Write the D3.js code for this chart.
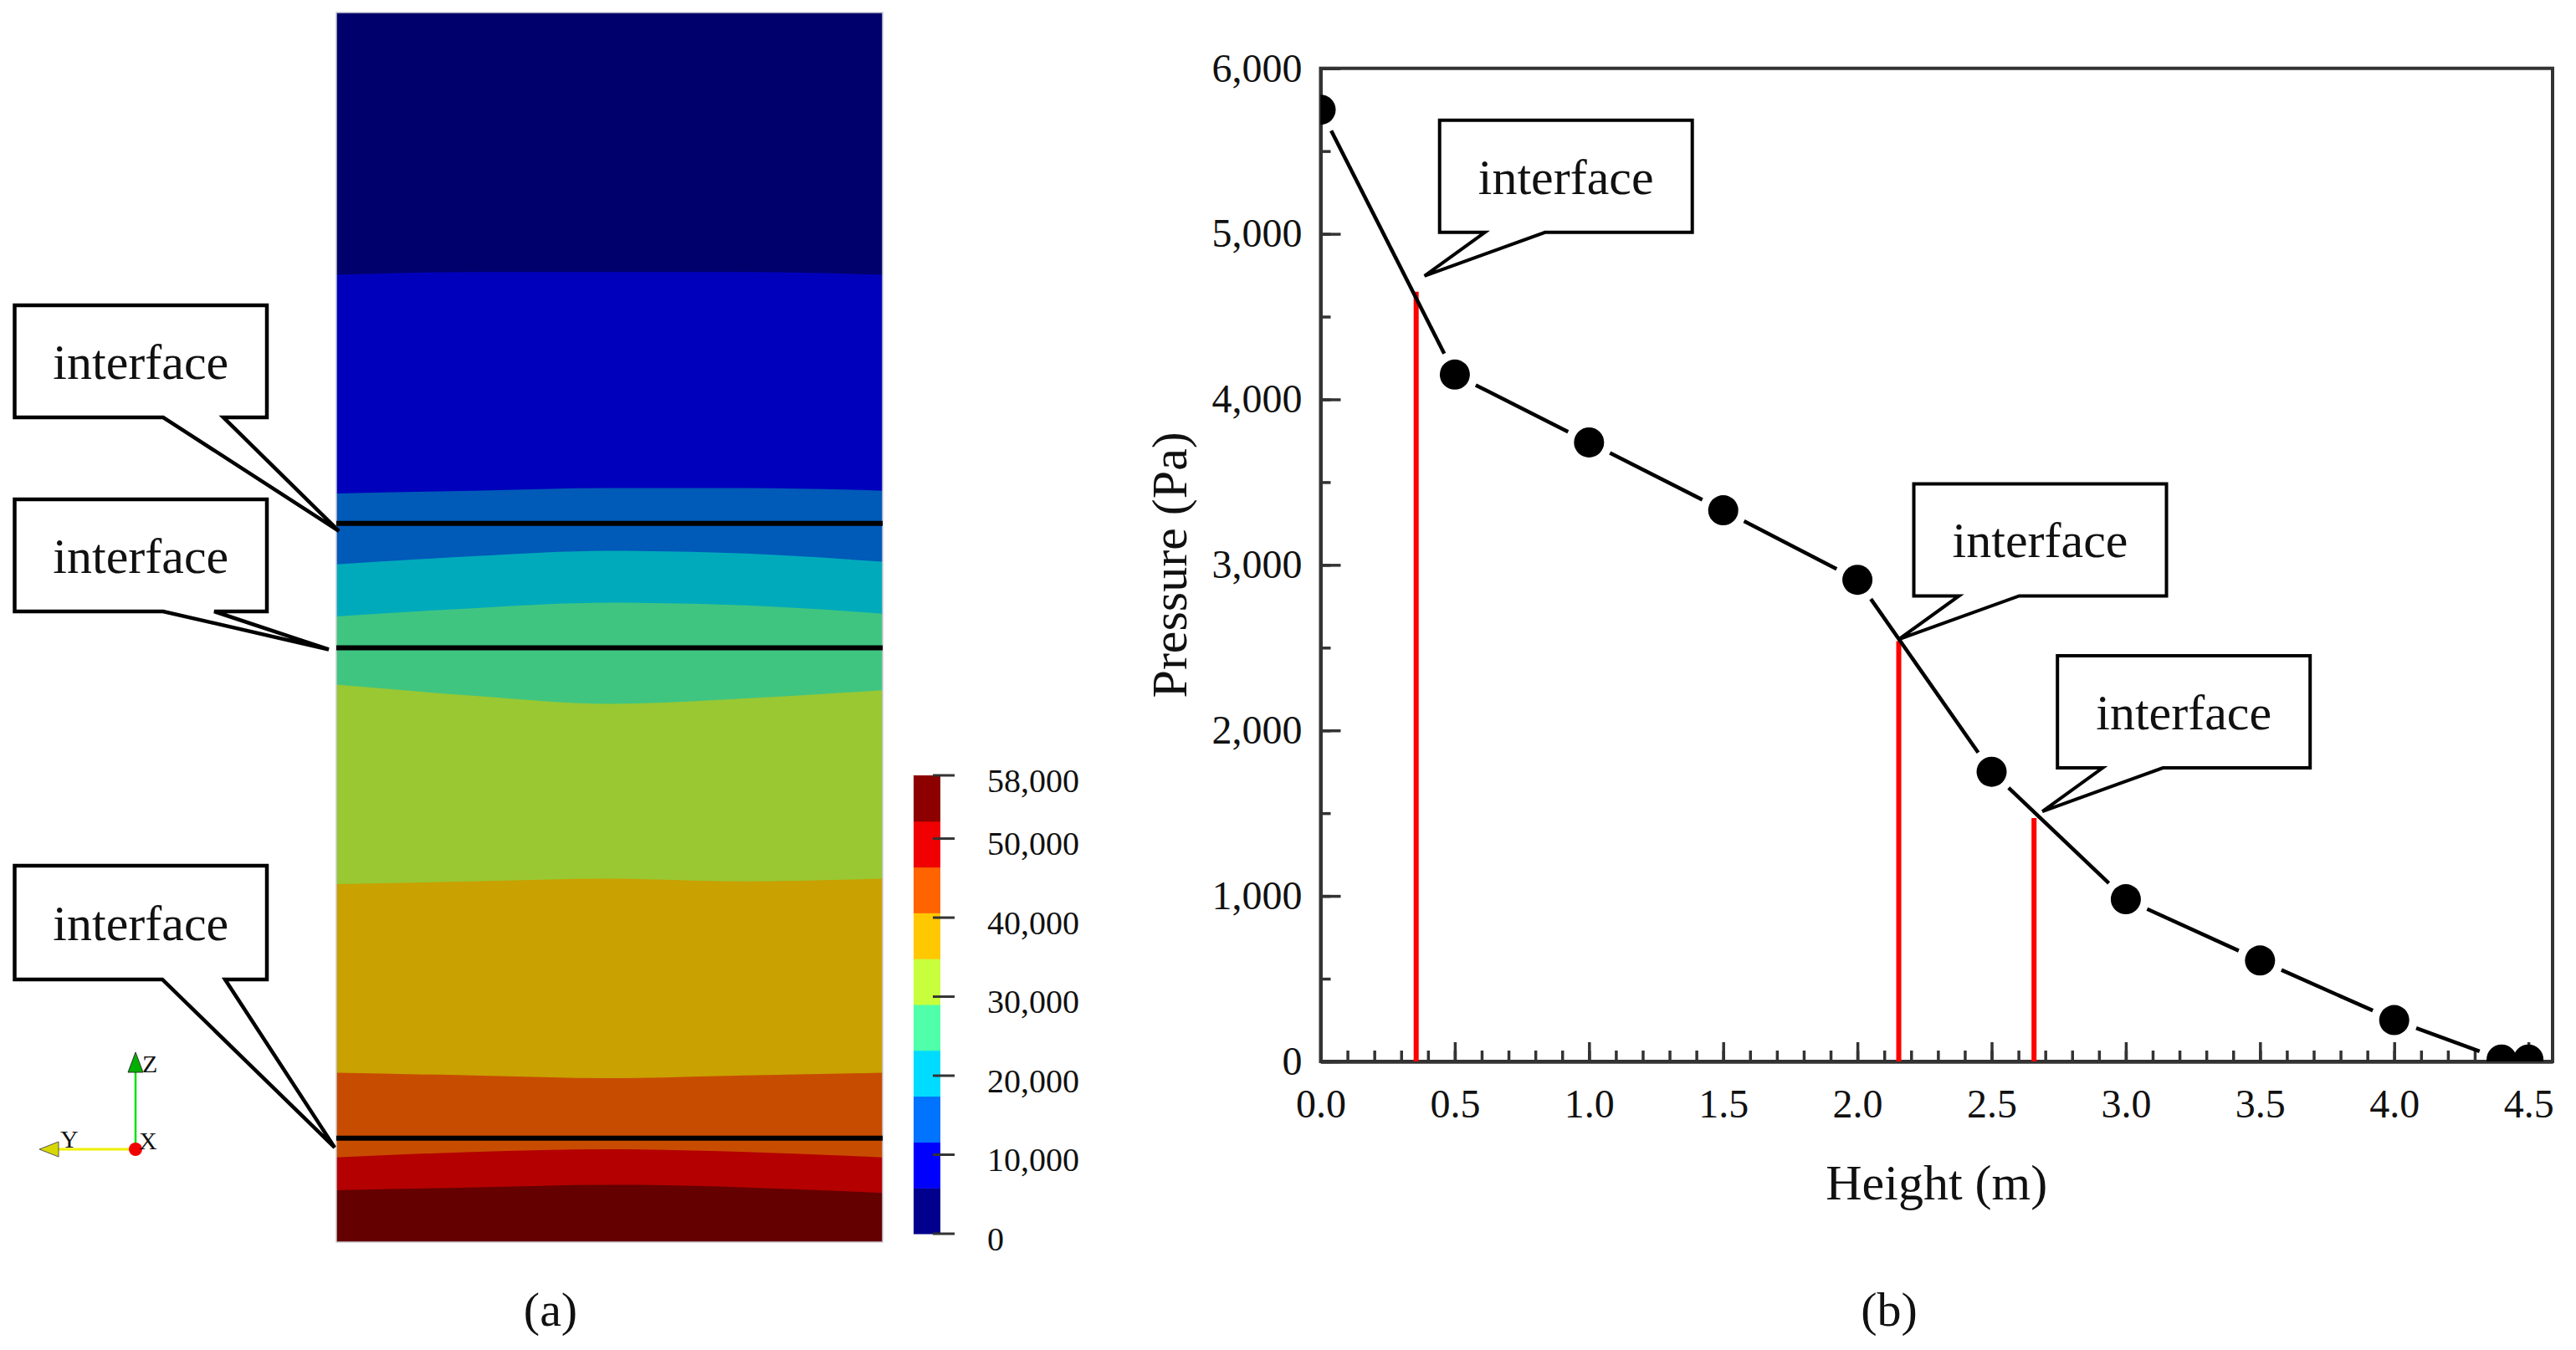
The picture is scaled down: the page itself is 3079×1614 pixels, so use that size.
<!DOCTYPE html>
<html>
<head>
<meta charset="utf-8">
<script src="https://cdn.jsdelivr.net/npm/d3@7"></script>
<style>
  html, body { margin: 0; padding: 0; background: #fff; }
  svg { display: block; }
  text { font-family: "Liberation Serif", "Times New Roman", serif; fill: #111; }
</style>
</head>
<body>
<svg id="figure"></svg>
<script>
// ---------- data ----------

// (b) pressure along the column height
var heights   = [0, 0.5, 1.0, 1.5, 2.0, 2.5, 3.0, 3.5, 4.0, 4.4, 4.5];
var pressures = [5750, 4150, 3740, 3330, 2910, 1750, 980, 610, 250, 12, 12];
var interfaceHeights   = [0.356, 2.154, 2.658];
var interfacePressures = [4650, 2540, 1470];
var xTicks = [0, 0.5, 1.0, 1.5, 2.0, 2.5, 3.0, 3.5, 4.0, 4.5];
var yTicks = [0, 1000, 2000, 3000, 4000, 5000, 6000];

// (a) contour section: band colours top -> bottom
var bandColors = ["#00006c", "#0000bc", "#005ab8", "#00aabb", "#40c580",
                  "#99c832", "#c9a100", "#c84c00", "#b40000", "#640000"];
// boundaries between bands (model height, m) sampled across the section
var bandSamples = [0, 0.25, 0.5, 0.75, 1];
var bandBoundaries = [
  [3.54, 3.55, 3.55, 3.55, 3.54],
  [2.74, 2.75, 2.76, 2.76, 2.75],
  [2.48, 2.51, 2.53, 2.52, 2.49],
  [2.29, 2.32, 2.34, 2.33, 2.30],
  [2.04, 2.00, 1.97, 1.99, 2.02],
  [1.31, 1.32, 1.33, 1.32, 1.33],
  [0.62, 0.61, 0.60, 0.61, 0.62],
  [0.31, 0.33, 0.34, 0.33, 0.31],
  [0.19, 0.20, 0.21, 0.20, 0.18]
];
var modelInterfaces = [2.63, 2.175, 0.38];

// colour bar, bottom -> top
var colorbarColors = ["#00008c", "#0000ff", "#0073ff", "#00dcff", "#50ffaa",
                      "#c8ff3c", "#ffc800", "#ff6400", "#f00000", "#8c0000"];
var colorbarTicks = [0, 10000, 20000, 30000, 40000, 50000, 58000];

// ---------- canvas ----------
var W = 3079, H = 1614;
var svg = d3.select("#figure").attr("width", W).attr("height", H);
var defs = svg.append("defs");

// callout = box with a wedge tail pointing at (tx, ty)
function callout(g, tx, ty, bx, by, bw, bh, ta, tb, sw) {
  var p = d3.path();
  p.moveTo(bx, by);
  p.lineTo(bx + bw, by);
  p.lineTo(bx + bw, by + bh);
  p.lineTo(tb, by + bh);
  p.lineTo(tx, ty);
  p.lineTo(ta, by + bh);
  p.lineTo(bx, by + bh);
  p.closePath();
  g.append("path").attr("d", p.toString())
    .attr("fill", "#fff").attr("stroke", "#000")
    .attr("stroke-width", sw).attr("stroke-linejoin", "miter");
  g.append("text").attr("x", bx + bw / 2).attr("y", by + bh / 2 + 21)
    .attr("text-anchor", "middle").attr("font-size", 60).text("interface");
}

// ================= panel (a) =================
var sec = { left: 402, right: 1055, top: 15, bottom: 1485 };
var secX = d3.scaleLinear().domain([0, 1]).range([sec.left, sec.right]);
var secY = d3.scaleLinear().domain([0, 4.5]).range([sec.bottom, sec.top]);

defs.append("clipPath").attr("id", "secClip").append("rect")
  .attr("x", sec.left).attr("y", sec.top)
  .attr("width", sec.right - sec.left).attr("height", sec.bottom - sec.top);

var bandArea = d3.area().curve(d3.curveMonotoneX)
  .x(function(d) { return secX(d[0]); })
  .y0(secY(0))
  .y1(function(d) { return secY(d[1]); });

var bands = svg.append("g").attr("clip-path", "url(#secClip)");
bandColors.forEach(function(c, i) {
  var upper = i === 0 ? bandSamples.map(function() { return 4.5; }) : bandBoundaries[i - 1];
  bands.append("path")
    .datum(bandSamples.map(function(s, j) { return [s, upper[j]]; }))
    .attr("d", bandArea)
    .attr("fill", c);
});
svg.append("rect")
  .attr("x", sec.left).attr("y", sec.top)
  .attr("width", sec.right - sec.left).attr("height", sec.bottom - sec.top)
  .attr("fill", "none").attr("stroke", "#c8c8d0").attr("stroke-width", 1.5);

svg.selectAll(".modelInterface").data(modelInterfaces).enter().append("line")
  .attr("class", "modelInterface")
  .attr("x1", sec.left).attr("x2", sec.right)
  .attr("y1", function(d) { return secY(d); })
  .attr("y2", function(d) { return secY(d); })
  .attr("stroke", "#000").attr("stroke-width", 6);

// left callouts: box placement, tip offset from the interface line
var leftCallouts = [
  { box: [17.5, 365, 301.5, 134], tail: [195, 267], tip: [3, 9] },
  { box: [17.5, 597, 301.5, 134], tail: [195, 256], tip: [-9, 2] },
  { box: [17.5, 1035, 301.5, 136], tail: [194, 269], tip: [-2, 11] }
];
var leftG = svg.append("g");
leftCallouts.forEach(function(c, i) {
  callout(leftG, sec.left + c.tip[0], secY(modelInterfaces[i]) + c.tip[1],
          c.box[0], c.box[1], c.box[2], c.box[3], c.tail[0], c.tail[1], 4.5);
});

// colour bar
var cb = { x: 1092, w: 32, top: 927, bottom: 1475 };
var cbY = d3.scaleLinear().domain([0, 58000]).range([cb.bottom, cb.top]);
var step = 58000 / colorbarColors.length;
svg.selectAll(".cbSeg").data(colorbarColors).enter().append("rect")
  .attr("class", "cbSeg")
  .attr("x", cb.x).attr("width", cb.w)
  .attr("y", function(d, i) { return cbY((i + 1) * step); })
  .attr("height", function(d, i) { return cbY(i * step) - cbY((i + 1) * step) + 0.5; })
  .attr("fill", function(d) { return d; });
var cbTick = svg.selectAll(".cbTick").data(colorbarTicks).enter().append("g")
  .attr("class", "cbTick")
  .attr("transform", function(d) { return "translate(0," + cbY(d) + ")"; });
cbTick.append("line")
  .attr("x1", cb.x + cb.w - 9).attr("x2", cb.x + cb.w + 17)
  .attr("stroke", "#333").attr("stroke-width", 3);
cbTick.append("text")
  .attr("x", 1180).attr("y", 6)
  .attr("dominant-baseline", "central")
  .attr("font-size", 40)
  .text(function(d) { return d3.format(",")(d); });

// axis triad
var tri = svg.append("g").attr("transform", "translate(162,1374)");
tri.append("line").attr("x1", 0).attr("y1", 0).attr("x2", -92).attr("y2", 0)
  .attr("stroke", "#f0f000").attr("stroke-width", 3);
tri.append("path").attr("d", "M-115,0 L-92,-9 L-92,9 Z")
  .attr("fill", "#d8d800").attr("stroke", "#555").attr("stroke-width", 1);
tri.append("line").attr("x1", 0).attr("y1", 0).attr("x2", 0).attr("y2", -94)
  .attr("stroke", "#00e000").attr("stroke-width", 2.5);
tri.append("path").attr("d", "M0,-116 L-9,-92 L9,-92 Z")
  .attr("fill", "#00b000").attr("stroke", "#333").attr("stroke-width", 1);
tri.append("circle").attr("r", 8).attr("fill", "#f00000");
tri.selectAll("text").data([["Z", 8, -92], ["Y", -90, -2], ["X", 4, 0]]).enter()
  .append("text")
  .attr("x", function(d) { return d[1]; })
  .attr("y", function(d) { return d[2]; })
  .attr("font-family", "DejaVu Sans, sans-serif")
  .attr("font-size", 30)
  .text(function(d) { return d[0]; });

svg.append("text").attr("x", 658).attr("y", 1585)
  .attr("text-anchor", "middle").attr("font-size", 58).text("(a)");

// ================= panel (b) =================
var plot = { left: 1578.5, right: 3051, top: 81.7, bottom: 1269 };
var x = d3.scaleLinear().domain([0, 4.59]).range([plot.left, plot.right]);
var y = d3.scaleLinear().domain([0, 6000]).range([plot.bottom, plot.top]);

defs.append("clipPath").attr("id", "plotClip").append("rect")
  .attr("x", plot.left).attr("y", plot.top)
  .attr("width", plot.right - plot.left).attr("height", plot.bottom - plot.top);

svg.append("rect")
  .attr("x", plot.left).attr("y", plot.top)
  .attr("width", plot.right - plot.left).attr("height", plot.bottom - plot.top)
  .attr("fill", "none").attr("stroke", "#333").attr("stroke-width", 4);

// minor ticks
svg.append("g").attr("class", "axis")
  .attr("transform", "translate(0," + plot.bottom + ")")
  .call(d3.axisBottom(x).tickValues(d3.range(0, 4.55, 0.1)).tickFormat("")
    .tickSizeInner(-13).tickSizeOuter(0));
svg.append("g").attr("class", "axis")
  .attr("transform", "translate(" + plot.left + ",0)")
  .call(d3.axisLeft(y).tickValues(d3.range(0, 6001, 500)).tickFormat("")
    .tickSizeInner(-12).tickSizeOuter(0));

// major ticks and labels
svg.append("g").attr("class", "axis")
  .attr("transform", "translate(0," + plot.bottom + ")")
  .call(d3.axisBottom(x).tickValues(xTicks).tickFormat(d3.format(".1f"))
    .tickSizeInner(-23).tickSizeOuter(0).tickPadding(33));
svg.append("g").attr("class", "axis")
  .attr("transform", "translate(" + plot.left + ",0)")
  .call(d3.axisLeft(y).tickValues(yTicks).tickFormat(d3.format(","))
    .tickSizeInner(-24).tickSizeOuter(0).tickPadding(22));

svg.selectAll(".axis path").attr("stroke", "#333").attr("stroke-width", 4);
svg.selectAll(".axis line").attr("stroke", "#333").attr("stroke-width", 3.5);
svg.selectAll(".axis text")
  .attr("font-family", "Liberation Serif, Times New Roman, serif")
  .attr("font-size", 48).attr("fill", "#111");

svg.append("text")
  .attr("transform", "translate(1418," + (plot.top + plot.bottom) / 2 + ") rotate(-90)")
  .attr("text-anchor", "middle").attr("font-size", 60).text("Pressure (Pa)");
svg.append("text")
  .attr("x", (plot.left + plot.right) / 2).attr("y", 1434)
  .attr("text-anchor", "middle").attr("font-size", 60).text("Height (m)");

// interface markers
svg.selectAll(".ifLine").data(interfaceHeights).enter().append("line")
  .attr("class", "ifLine")
  .attr("x1", function(d) { return x(d); })
  .attr("x2", function(d) { return x(d); })
  .attr("y1", y(0))
  .attr("y2", function(d, i) { return y(interfacePressures[i]); })
  .attr("stroke", "#ff0000").attr("stroke-width", 6);

// data line, broken around each symbol
var pts = heights.map(function(h, i) { return [x(h), y(pressures[i])]; });
var gap = 28;
var segs = [];
for (var i = 0; i < pts.length - 1; i++) {
  var dx = pts[i + 1][0] - pts[i][0], dy = pts[i + 1][1] - pts[i][1];
  var len = Math.sqrt(dx * dx + dy * dy);
  if (len <= 2 * gap) continue;
  var ux = dx / len, uy = dy / len;
  segs.push([pts[i][0] + ux * gap, pts[i][1] + uy * gap,
             pts[i + 1][0] - ux * gap, pts[i + 1][1] - uy * gap]);
}
svg.selectAll(".seg").data(segs).enter().append("line")
  .attr("class", "seg")
  .attr("x1", function(d) { return d[0]; })
  .attr("y1", function(d) { return d[1]; })
  .attr("x2", function(d) { return d[2]; })
  .attr("y2", function(d) { return d[3]; })
  .attr("stroke", "#000").attr("stroke-width", 4.5);

svg.append("g").attr("clip-path", "url(#plotClip)")
  .selectAll("circle").data(pts).enter().append("circle")
  .attr("cx", function(d) { return d[0]; })
  .attr("cy", function(d) { return d[1]; })
  .attr("r", 18).attr("fill", "#000");

// right callouts
var tipOffsets = [[10, -19], [0, -2], [10, -8]];
var rightG = svg.append("g");
interfaceHeights.forEach(function(h, i) {
  var tx = x(h) + tipOffsets[i][0], ty = y(interfacePressures[i]) + tipOffsets[i][1];
  callout(rightG, tx, ty, tx + 18, ty - 186, 302, 134, tx + 72, tx + 144, 4);
});

svg.append("text").attr("x", 2258).attr("y", 1585)
  .attr("text-anchor", "middle").attr("font-size", 58).text("(b)");
</script>
</body>
</html>
